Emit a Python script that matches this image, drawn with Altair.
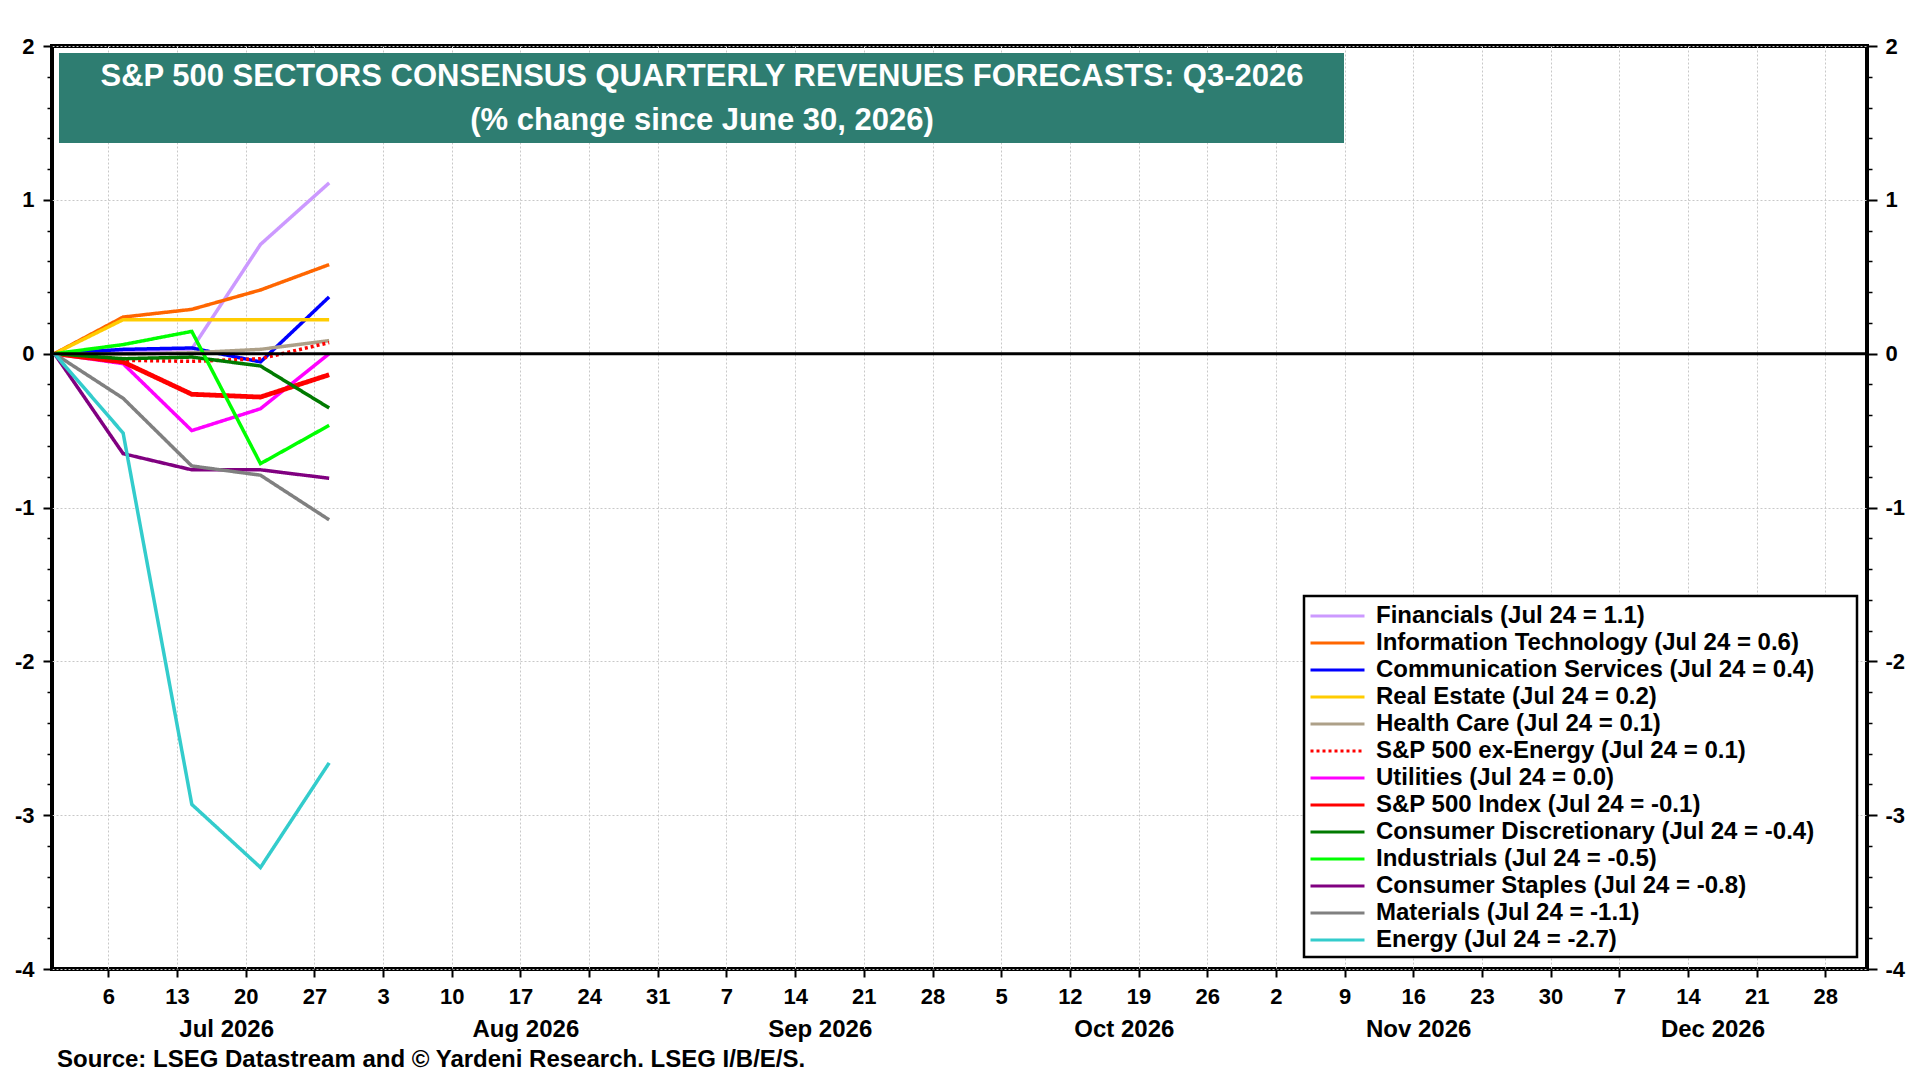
import altair as alt
import pandas as pd

# ---------------- data ----------------
dates = ["2026-06-30T12:00:00Z", "2026-07-07T12:00:00Z", "2026-07-14T12:00:00Z",
         "2026-07-21T12:00:00Z", "2026-07-28T12:00:00Z"]

series = [
    "Financials (Jul 24 = 1.1)",
    "Information Technology (Jul 24 = 0.6)",
    "Communication Services (Jul 24 = 0.4)",
    "Real Estate (Jul 24 = 0.2)",
    "Health Care (Jul 24 = 0.1)",
    "S&P 500 ex-Energy (Jul 24 = 0.1)",
    "Utilities (Jul 24 = 0.0)",
    "S&P 500 Index (Jul 24 = -0.1)",
    "Consumer Discretionary (Jul 24 = -0.4)",
    "Industrials (Jul 24 = -0.5)",
    "Consumer Staples (Jul 24 = -0.8)",
    "Materials (Jul 24 = -1.1)",
    "Energy (Jul 24 = -2.7)",
]

colors = ["#CC99FF", "#FF6600", "#0000FF", "#FFCC00", "#ADA088", "#FF0000", "#FF00FF",
          "#FF0000", "#007A00", "#00FF00", "#800080", "#808080", "#33CCCC"]

dashes = [[1, 0], [1, 0], [1, 0], [1, 0], [1, 0], [3, 3], [1, 0],
          [1, 0], [1, 0], [1, 0], [1, 0], [1, 0], [1, 0]]

financials = [0.0, 0.01, 0.03, 0.71, 1.11]
info_tech = [0.0, 0.238, 0.288, 0.414, 0.579]
comm_services = [0.0, 0.028, 0.037, -0.054, 0.369]
real_estate = [0.0, 0.221, 0.221, 0.221, 0.221]
health_care = [0.0, -0.005, 0.006, 0.028, 0.085]
ex_energy = [0.0, -0.043, -0.05, -0.033, 0.072]
utilities = [0.0, -0.065, -0.50, -0.358, 0.0]
sp500 = [0.0, -0.054, -0.264, -0.282, -0.137]
cons_disc = [0.0, -0.033, -0.022, -0.08, -0.353]
industrials = [0.0, 0.059, 0.145, -0.715, -0.466]
cons_staples = [0.0, -0.65, -0.755, -0.755, -0.81]
materials = [0.0, -0.29, -0.73, -0.79, -1.08]
energy = [0.0, -0.516, -2.93, -3.34, -2.66]

values = [financials, info_tech, comm_services, real_estate, health_care, ex_energy,
          utilities, sp500, cons_disc, industrials, cons_staples, materials, energy]

week_ticks = ["2026-07-06", "2026-07-13", "2026-07-20", "2026-07-27",
              "2026-08-03", "2026-08-10", "2026-08-17", "2026-08-24", "2026-08-31",
              "2026-09-07", "2026-09-14", "2026-09-21", "2026-09-28",
              "2026-10-05", "2026-10-12", "2026-10-19", "2026-10-26",
              "2026-11-02", "2026-11-09", "2026-11-16", "2026-11-23", "2026-11-30",
              "2026-12-07", "2026-12-14", "2026-12-21", "2026-12-28"]
month_ticks = ["2026-07-18T00:00:00", "2026-08-17T12:00:00", "2026-09-16T12:00:00",
               "2026-10-17T12:00:00", "2026-11-16T12:00:00", "2026-12-16T12:00:00"]
x_domain = ["2026-06-30T06:00:00", "2027-01-01T06:00:00"]

y_major = [-4, -3, -2, -1, 0, 1, 2]
y_minor = [-3.8, -3.6, -3.4, -3.2, -2.8, -2.6, -2.4, -2.2, -1.8, -1.6, -1.4, -1.2,
           -0.8, -0.6, -0.4, -0.2, 0.2, 0.4, 0.6, 0.8, 1.2, 1.4, 1.6, 1.8]

title1 = "S&P 500 SECTORS CONSENSUS QUARTERLY REVENUES FORECASTS: Q3-2026"
title2 = "(% change since June 30, 2026)"
source = "Source: LSEG Datastream and \u00a9 Yardeni Research. LSEG I/B/E/S."

# ---------------- build ----------------
rows = []
for name, vals in zip(series, values):
    for d, v in zip(dates, vals):
        rows.append({"date": d, "value": v, "series": name})
df = pd.DataFrame(rows)


def ms(s):
    return int(pd.Timestamp(s, tz="UTC").value // 10**6)


week_ms = [ms(s) for s in week_ticks]
month_ms = [ms(s) for s in month_ticks]
dom_ms = [ms(s) for s in x_domain]

FONT = "Liberation Sans"
W, H = 1815, 923

xscale = alt.Scale(type="utc", domain=dom_ms)
yscale = alt.Scale(domain=[-4, 2], nice=False, zero=False)

axis_common = dict(labelFont=FONT, labelFontWeight="bold", labelColor="black",
                   tickColor="black", domain=False, title=None, labelOverlap=False)
ylabel_expr = "datum.value < 0 ? '-' + abs(datum.value) : '' + datum.value"

# legend symbol: a stroke 4r long; the trailing move-to only widens the legend box
legend_props = dict(title=None, symbolType="M-1,0H3M38.6,0", symbolSize=729,
                    symbolStrokeWidth=3, labelOffset=37, labelLimit=1200)

lines = alt.Chart(df).mark_line(strokeJoin="miter").encode(
    x=alt.X("date:T", scale=xscale,
            axis=alt.Axis(values=week_ms, labelExpr="utcdate(datum.value)", orient="bottom",
                          grid=True, gridColor="#c8c8c8", gridDash=[2, 2], gridWidth=1,
                          tickSize=8, tickWidth=2, labelFontSize=22, labelPadding=9,
                          labelFlush=False, **axis_common)),
    y=alt.Y("value:Q", scale=yscale,
            axis=alt.Axis(values=y_major, orient="left", grid=True, gridColor="#c8c8c8",
                          gridDash=[2, 2], gridWidth=1, tickSize=9, tickWidth=2,
                          labelFontSize=22, labelPadding=9, labelExpr=ylabel_expr,
                          **axis_common)),
    color=alt.Color("series:N", scale=alt.Scale(domain=series, range=colors),
                    sort=series, legend=alt.Legend(**legend_props)),
    strokeDash=alt.StrokeDash("series:N", scale=alt.Scale(domain=series, range=dashes),
                              sort=series, legend=alt.Legend(**legend_props)),
    strokeWidth=alt.condition(alt.datum.series == "S&P 500 Index (Jul 24 = -0.1)",
                              alt.value(4.8), alt.value(3.5)),
)

month_axis = alt.Chart(df).mark_line(opacity=0).encode(
    x=alt.X("date:T", scale=xscale,
            axis=alt.Axis(values=month_ms, labelExpr="utcFormat(datum.value, '%b %Y')",
                          orient="bottom", grid=False, ticks=False, labelFontSize=24,
                          labelPadding=48, labelFlush=False, **axis_common)),
    y=alt.Y("value:Q", scale=yscale,
            axis=alt.Axis(values=y_major, orient="right", grid=False, tickSize=10, tickWidth=2,
                          labelFontSize=22, labelPadding=8, labelExpr=ylabel_expr,
                          **axis_common)),
    detail="series:N",
)

minor_left = alt.Chart(df).mark_line(opacity=0).encode(
    x=alt.X("date:T", scale=xscale, axis=None),
    y=alt.Y("value:Q", scale=yscale,
            axis=alt.Axis(values=y_minor, orient="left", grid=False, labels=False,
                          tickSize=5, tickWidth=1.5, **axis_common)),
    detail="series:N",
)

minor_right = alt.Chart(df).mark_line(opacity=0).encode(
    x=alt.X("date:T", scale=xscale, axis=None),
    y=alt.Y("value:Q", scale=yscale,
            axis=alt.Axis(values=y_minor, orient="right", grid=False, labels=False,
                          tickSize=5, tickWidth=1.5, **axis_common)),
    detail="series:N",
)

zero = alt.Chart(pd.DataFrame({"y": [0]})).mark_rule(color="black", strokeWidth=3).encode(
    y=alt.Y("y:Q", scale=yscale, axis=None)
)

one = pd.DataFrame({"k": [1]})
title_box = alt.Chart(one).mark_rect(color="#2E7D71").encode(
    x=alt.value(7), x2=alt.value(1292), y=alt.value(7), y2=alt.value(97)
)
t1 = alt.Chart(one).mark_text(font=FONT, fontSize=31, fontWeight="bold", color="white",
                              align="center", baseline="middle").encode(
    x=alt.value(650), y=alt.value(31), text=alt.value(title1))
t2 = alt.Chart(one).mark_text(font=FONT, fontSize=31, fontWeight="bold", color="white",
                              align="center", baseline="middle").encode(
    x=alt.value(650), y=alt.value(75), text=alt.value(title2))
src = alt.Chart(one).mark_text(font=FONT, fontSize=24, fontWeight="bold", color="black",
                               align="left", baseline="middle").encode(
    x=alt.value(5), y=alt.value(1014), text=alt.value(source))

chart = alt.layer(
    lines, month_axis, minor_left, minor_right, zero, title_box, t1, t2, src
).resolve_axis(x="independent", y="independent").properties(
    width=W, height=H,
    background="white",
    autosize=alt.AutoSizeParams(type="none"),
    padding={"left": 44, "top": 38, "right": 44, "bottom": 106},
).configure_view(
    stroke="black", strokeWidth=4
).configure_legend(
    orient="none", legendX=1252, legendY=550, fillColor="white", strokeColor="black",
    strokeWidth=2.5, padding=5, rowPadding=0, labelFont=FONT, labelFontWeight="bold",
    labelFontSize=24, labelColor="black", symbolOpacity=1
)

chart.save("out.html", embed_options={"renderer": "svg", "actions": False})
